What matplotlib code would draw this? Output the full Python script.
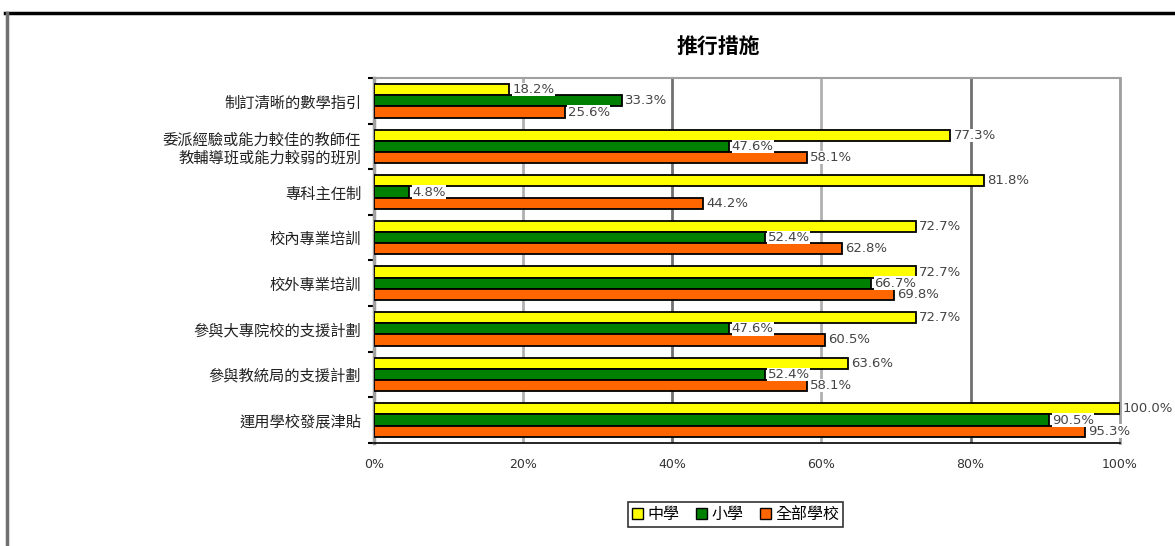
import matplotlib
matplotlib.use('Agg')
import matplotlib.pyplot as plt
import numpy as np
from matplotlib.lines import Line2D
from matplotlib.patches import Patch

plt.rcParams['font.family'] = ['Noto Sans CJK TC', 'DejaVu Sans']

categories = ['制訂清晰的數學指引',
              '委派經驗或能力較佳的教師任\n教輔導班或能力較弱的班別',
              '專科主任制',
              '校內專業培訓',
              '校外專業培訓',
              '參與大專院校的支援計劃',
              '參與教統局的支援計劃',
              '運用學校發展津貼']
secondary = [18.2, 77.3, 81.8, 72.7, 72.7, 72.7, 63.6, 100.0]
primary = [33.3, 47.6, 4.8, 52.4, 66.7, 47.6, 52.4, 90.5]
all_schools = [25.6, 58.1, 44.2, 62.8, 69.8, 60.5, 58.1, 95.3]
series_names = ['中學', '小學', '全部學校']
series_colors = ['#FFFF00', '#008000', '#FF6600']
xticks = [0, 20, 40, 60, 80, 100]
xtick_labels = ['0%', '20%', '40%', '60%', '80%', '100%']

fig = plt.figure(figsize=(11.75, 5.46), dpi=100)
ax = fig.add_axes([0.318, 0.189, 0.635, 0.668])

y = np.arange(len(categories))
h = 0.245
series = [secondary, primary, all_schools]
for k, (vals, col) in enumerate(zip(series, series_colors)):
    pos = y + (k - 1) * h
    ax.barh(pos, vals, height=h, color=col, edgecolor='black', linewidth=1.3, zorder=3)
    for p, v in zip(pos, vals):
        ax.text(v + 0.4, p, f'{v:.1f}%', va='center', ha='left', fontsize=9.5,
                color='#444444', family=['DejaVu Sans'], zorder=4,
                bbox=dict(facecolor='white', edgecolor='none', pad=0.2))

ax.set_xlim(0, 100)
ax.set_ylim(len(categories) - 0.5, -0.5)

# gridlines, alternating shades
for i, gx in enumerate(xticks[1:]):
    ax.axvline(gx, color='#b0b0b0' if i % 2 == 0 else '#707070', linewidth=2, zorder=1)

ax.set_xticks(xticks)
ax.set_xticklabels(xtick_labels, fontsize=9, color='#333333', family=['DejaVu Sans'])
ax.tick_params(axis='x', length=0, pad=11)

ax.set_yticks(y)
ax.set_yticklabels(categories, fontsize=11, color='#222222', linespacing=1.1)
ax.tick_params(axis='y', which='major', length=0, pad=9)
ax.set_yticks(np.arange(-0.5, len(categories), 1.0), minor=True)
ax.tick_params(axis='y', which='minor', length=4, width=1.5, color='black', direction='out')

ax.spines['left'].set_color('#a0a0a0')
ax.spines['left'].set_linewidth(2.5)
ax.spines['top'].set_color('#a0a0a0')
ax.spines['top'].set_linewidth(1.5)
ax.spines['right'].set_color('#a0a0a0')
ax.spines['right'].set_linewidth(2)
ax.spines['bottom'].set_color('black')
ax.spines['bottom'].set_linewidth(1.2)

fig.text(0.611, 0.915, '推行措施', ha='center', va='center', fontsize=15, fontweight='bold')

handles = [Patch(facecolor=c, edgecolor='black', linewidth=1) for c in series_colors]
leg = fig.legend(handles, series_names, loc='center', bbox_to_anchor=(0.626, 0.057),
                 ncol=3, fontsize=11.5, frameon=True, fancybox=False, handlelength=0.7,
                 handleheight=0.7, handletextpad=0.3, columnspacing=1.0,
                 borderpad=0.25, edgecolor='black')
leg.get_frame().set_linewidth(1.2)

# figure border: black top, gray left
fig.add_artist(Line2D([0.004, 1.0], [0.976, 0.976], transform=fig.transFigure,
                      color='black', linewidth=2.5))
fig.add_artist(Line2D([0.006, 0.006], [0.0, 0.976], transform=fig.transFigure,
                      color='#707070', linewidth=2.5))

fig.savefig('out.png', dpi=100, facecolor='white')
